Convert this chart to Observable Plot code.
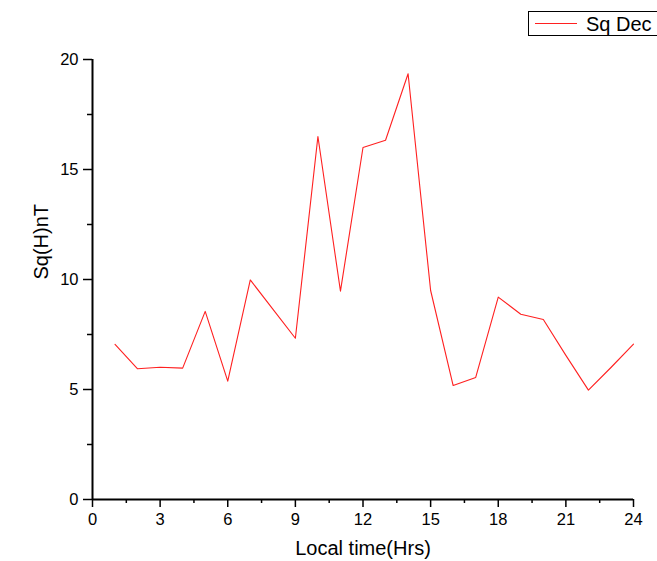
<!DOCTYPE html>
<html>
<head>
<meta charset="utf-8">
<script src="https://cdn.jsdelivr.net/npm/d3@7"></script>
<script src="https://cdn.jsdelivr.net/npm/@observablehq/plot@0.6"></script>
<style>
  body { margin: 0; background: #fff; }
  #chart { position: relative; width: 657px; height: 561px; }
</style>
</head>
<body>
<div id="chart"></div>
<script>
const hours = [1,2,3,4,5,6,7,8,9,10,11,12,13,14,15,16,17,18,19,20,21,22,23,24];
const sqDec = [7.05,5.94,6.01,5.97,8.55,5.38,9.98,8.65,7.33,16.5,9.47,16.0,16.33,19.35,9.5,5.18,5.55,9.2,8.42,8.18,6.55,4.97,6.0,7.06];
const xTicks = [0,3,6,9,12,15,18,21,24];
const xMinor = [1.5,4.5,7.5,10.5,13.5,16.5,19.5,22.5];
const yTicks = [0,5,10,15,20];
const yMinor = [2.5,7.5,12.5,17.5];
const seriesName = "Sq Dec";

const data = hours.map((h, i) => ({h, v: sqDec[i]}));
const font = "'Liberation Sans', Arial, sans-serif";

const plot = Plot.plot({
  width: 657,
  height: 561,
  marginLeft: 92,
  marginRight: 24,
  marginTop: 59,
  marginBottom: 62,
  style: {fontFamily: font, fontSize: "16.5px", color: "#000", background: "#fff"},
  x: {domain: [0, 24]},
  y: {domain: [0, 20]},
  marks: [
    Plot.axisX({ticks: xTicks, tickSize: 8, tickPadding: 6, tickFormat: d => String(d), fontSize: 16.5, label: null, strokeWidth: 1.5, strokeOpacity: 1}),
    Plot.axisX({ticks: xMinor, tickSize: 4, tickFormat: null, text: null, label: null, strokeWidth: 1.5, strokeOpacity: 1}),
    Plot.axisY({ticks: yTicks, tickSize: 9, tickPadding: 5, tickFormat: d => String(d), fontSize: 16.5, label: null, strokeWidth: 1.5, strokeOpacity: 1}),
    Plot.axisY({ticks: yMinor, tickSize: 5, tickFormat: null, text: null, label: null, strokeWidth: 1.5, strokeOpacity: 1}),
    Plot.ruleY([0], {stroke: "#000", strokeWidth: 2}),
    Plot.ruleX([0], {stroke: "#000", strokeWidth: 2}),
    Plot.lineY(data, {x: "h", y: "v", stroke: "#ff2020", strokeWidth: 1.1}),
    Plot.text(["Local time(Hrs)"], {frameAnchor: "bottom", dy: 55, fontSize: 20, fill: "#000"}),
    Plot.text(["Sq(H)nT"], {frameAnchor: "left", dx: -51, rotate: -90, fontSize: 20, fill: "#000"})
  ]
});
document.getElementById("chart").appendChild(plot);

// legend box (top right, clipped by the right edge as in the reference)
const svg = d3.select(plot);
const lg = svg.append("g").attr("text-anchor", "start");
lg.append("rect").attr("x", 528.5).attr("y", 11.5).attr("width", 140).attr("height", 24)
  .attr("fill", "#fff").attr("stroke", "#000").attr("stroke-width", 1);
lg.append("line").attr("x1", 535).attr("x2", 577).attr("y1", 23.5).attr("y2", 23.5)
  .attr("stroke", "#ff2020").attr("stroke-width", 1.1);
lg.append("text").attr("x", 586).attr("y", 24).attr("dy", "0.35em")
  .attr("text-anchor", "start")
  .attr("font-size", 20).attr("font-family", font).attr("fill", "#000").text(seriesName);
</script>
</body>
</html>
